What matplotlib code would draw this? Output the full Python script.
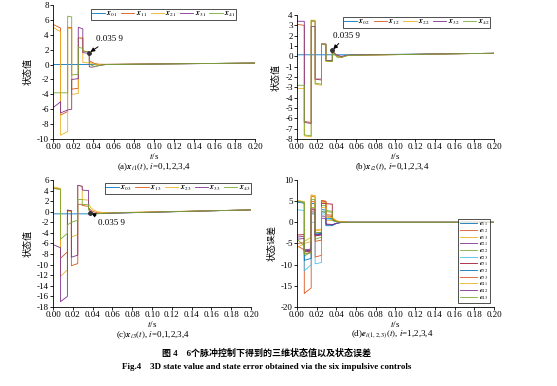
import matplotlib
matplotlib.use('Agg')
from matplotlib import pyplot as plt

plt.rcParams['font.family'] = ['Liberation Serif', 'Noto Sans CJK SC']
plt.rcParams['mathtext.fontset'] = 'stix'
plt.rcParams['axes.unicode_minus'] = False

colors = ['#0072BD', '#D95319', '#EDB120', '#7E2F8E', '#77AC30', '#4DBEEE', '#A2142F']

# impulse instants (s) and tail sample times after the last impulse
seg_t = [0, 0.0075, 0.0145, 0.0185, 0.025, 0.0295, 0.0359]
tail_t = [0.0359, 0.038, 0.041, 0.045, 0.052, 0.2]

# (a) x_i1 : per segment (start, end) values, then tail values
a_labels = ['x_{01}', 'x_{11}', 'x_{21}', 'x_{31}', 'x_{41}']
a_segs = [
    [(0, 0), (0, 0), (0, 0), (0, 0), (0, 0), (0, 0)],
    [(5.4, 4.9), (-6.8, -6.3), (5.0, 5.0), (-3.3, -3.2), (3.6, 3.5), (1.8, 1.7)],
    [(5.0, 4.4), (-9.5, -9.0), (4.9, 4.8), (-4.0, -3.9), (3.6, 3.6), (0.3, 0.2)],
    [(-5.8, -5.0), (-6.5, -6.1), (-6.1, -6.0), (-2.0, -1.9), (5.0, 4.8), (1.6, 1.5)],
    [(-3.8, -3.8), (-3.8, -3.8), (6.5, 6.4), (-1.4, -1.3), (2.3, 2.2), (1.9, 1.6)],
]
a_tail = [
    [0, 0, 0, 0, 0.02, 0.2],
    [0.5, 0.35, 0.15, 0.05, 0.03, 0.2],
    [0.3, 0.2, 0.05, 0.0, 0.02, 0.2],
    [-0.3, -0.35, -0.3, -0.15, 0.0, 0.2],
    [0.2, -0.1, -0.25, -0.15, 0.0, 0.2],
]

# (b) x_i2
b_labels = ['x_{02}', 'x_{12}', 'x_{22}', 'x_{32}', 'x_{42}']
b_segs = [
    [(0.15, 0.15)] * 6,
    [(3.1, 3.0), (-6.3, -6.4), (3.4, 3.4), (-2.2, -2.3), (1.2, 1.1), (-0.4, -0.4)],
    [(-3.1, -3.1), (-7.7, -7.8), (3.5, 3.5), (-2.7, -2.8), (1.2, 1.2), (-0.5, -0.5)],
    [(3.4, 3.4), (-6.4, -6.5), (2.9, 2.9), (-2.2, -2.2), (1.2, 1.2), (-0.4, -0.45)],
    [(-2.8, -2.8), (-7.6, -7.7), (3.5, 3.4), (-2.6, -2.7), (1.2, 1.15), (-0.45, -0.5)],
]
b_tail = [
    [0.15, 0.15, 0.15, 0.15, 0.15, 0.3],
    [0.5, 0.25, 0.0, -0.05, 0.1, 0.3],
    [0.6, 0.35, 0.05, -0.1, 0.1, 0.3],
    [0.6, 0.3, 0.1, 0.0, 0.12, 0.3],
    [0.55, 0.2, -0.1, -0.12, 0.1, 0.3],
]

# (c) x_i3
c_labels = ['x_{03}', 'x_{13}', 'x_{23}', 'x_{33}', 'x_{43}']
c_segs = [
    [(-0.4, -0.4)] * 6,
    [(4.5, 4.3), (-8.8, -7.6), (0.3, 0.2), (-10.2, -9.8), (1.4, 1.4), (1.2, 1.0)],
    [(4.7, 4.4), (-12.2, -11.0), (0.1, 0.0), (-4.8, -4.3), (5.0, 4.8), (2.3, 2.2)],
    [(-6.2, -6.8), (-17.0, -16.0), (0.3, 0.2), (-8.6, -8.2), (5.0, 4.8), (4.1, 4.0)],
    [(4.4, 4.2), (-5.2, -4.1), (-2.5, -2.0), (-2.0, -1.6), (2.3, 2.3), (1.4, 1.3)],
]
c_tail = [
    [-0.4, -0.4, -0.4, -0.38, -0.3, 0.35],
    [0.8, 0.3, 0.0, -0.2, -0.25, 0.35],
    [1.5, 0.8, 0.3, 0.0, -0.2, 0.35],
    [0.6, 0.0, -0.3, -0.35, -0.3, 0.35],
    [0.4, -0.2, -0.4, -0.35, -0.28, 0.35],
]

# (d) e_ij
d_labels = ['e_{11}', 'e_{12}', 'e_{13}', 'e_{21}', 'e_{22}', 'e_{23}',
            'e_{31}', 'e_{32}', 'e_{33}', 'e_{41}', 'e_{42}', 'e_{43}']
d_segs = [
    [(5.0, 4.8), (-6.8, -6.5), (4.5, 4.4), (-3.0, -2.8), (3.0, 2.9), (1.0, 0.9)],
    [(-5.5, -6.5), (-16.8, -15.5), (6.2, 6.0), (-8.2, -7.8), (5.2, 5.0), (1.5, 1.4)],
    [(-6.0, -5.0), (-4.5, -3.5), (6.5, 6.3), (-2.0, -1.8), (4.8, 4.6), (0.5, 0.4)],
    [(-3.5, -3.3), (-6.5, -6.3), (2.5, 2.4), (-2.5, -2.4), (1.5, 1.4), (-0.5, -0.6)],
    [(-4.0, -5.5), (-8.0, -7.0), (3.5, 3.4), (-4.0, -3.5), (4.0, 3.9), (2.5, 2.4)],
    [(3.0, 2.8), (-11.5, -10.0), (0.0, 0.0), (-9.8, -9.5), (2.0, 1.9), (0.8, 0.7)],
    [(-3.0, -2.9), (-7.0, -6.8), (3.0, 2.9), (-3.2, -3.0), (4.5, 4.4), (4.4, 4.3)],
    [(4.8, 4.5), (-9.0, -8.5), (2.0, 2.0), (-2.8, -2.6), (2.5, 2.4), (-0.8, -0.8)],
    [(-5.0, -4.8), (-7.5, -7.0), (5.0, 4.8), (-4.5, -4.2), (5.0, 4.9), (1.8, 1.7)],
    [(5.2, 4.9), (-5.0, -4.5), (6.3, 6.2), (-1.8, -1.6), (3.5, 3.4), (1.2, 1.1)],
    [(-4.0, -3.8), (-6.8, -6.6), (3.2, 3.1), (-3.0, -2.8), (1.0, 0.9), (-0.4, -0.5)],
    [(5.0, 4.6), (-7.5, -7.2), (5.5, 5.3), (-2.5, -2.3), (2.5, 2.4), (2.8, 2.6)],
]
d_tail = [
    [0.6, 0.35, 0.15, 0.05, 0, 0],
    [1.0, 0.6, 0.25, 0.08, 0, 0],
    [1.2, 0.7, 0.3, 0.1, 0, 0],
    [-0.6, -0.45, -0.2, -0.05, 0, 0],
    [0.8, 0.45, 0.2, 0.05, 0, 0],
    [0.5, 0.25, 0.1, 0.02, 0, 0],
    [0.8, 0.4, 0.15, 0.03, 0, 0],
    [-0.8, -0.5, -0.2, -0.05, 0, 0],
    [0.9, 0.5, 0.2, 0.05, 0, 0],
    [1.2, 0.7, 0.3, 0.1, 0, 0],
    [-0.6, -0.35, -0.15, -0.03, 0, 0],
    [0.5, 0.3, 0.1, 0.02, 0, 0],
]


def build(segs, tail):
    ts, ys = [], []
    for k, (y0, y1) in enumerate(segs):
        ts += [seg_t[k], seg_t[k + 1]]
        ys += [y0, y1]
    return ts + tail_t, ys + tail


def panel(ax, segs, tails, labels, ylim, yticks, ylabel, caption, cap_xy):
    for i in range(len(segs)):
        t, y = build(segs[i], tails[i])
        ax.plot(t, y, color=colors[i % 7], lw=0.6,
                label=r'$\mathbfit{' + labels[i][0] + '}' + labels[i][1:] + '$')
    ax.set_xlim(0, 0.2)
    ax.set_ylim(*ylim)
    ax.set_xticks([0.00, 0.02, 0.04, 0.06, 0.08, 0.10, 0.12, 0.14, 0.16, 0.18, 0.20])
    ax.set_xticklabels(['%.2f' % v for v in ax.get_xticks()])
    ax.set_yticks(yticks)
    ax.spines['top'].set_visible(False)
    ax.spines['right'].set_visible(False)
    for s in ['left', 'bottom']:
        ax.spines[s].set_linewidth(0.6)
    ax.tick_params(labelsize=6.5, length=2, width=0.6, pad=1)
    ax.set_xlabel(r'$t$/s', fontsize=6.5, labelpad=0)
    ax.set_ylabel(ylabel, fontsize=6.5, labelpad=3)
    fig.text(cap_xy[0], cap_xy[1], caption, ha='center', va='center', fontsize=6.5)


def mark(ax, pt, txt_pos):
    ax.plot(pt[0], pt[1], 'o', color='#333333', ms=2.5, zorder=5)
    ax.annotate('0.035 9', xy=pt, xytext=txt_pos, fontsize=6.5, ha='left', va='center',
                arrowprops=dict(arrowstyle='-|>', color='k', lw=0.7, mutation_scale=6,
                                shrinkA=1, shrinkB=1))


fig = plt.figure(figsize=(5.57, 3.86), dpi=100)
ax_a = fig.add_axes([0.0952, 0.640, 0.3626, 0.347])
ax_b = fig.add_axes([0.533, 0.640, 0.354, 0.321])
ax_c = fig.add_axes([0.0952, 0.2047, 0.3555, 0.329])
ax_d = fig.add_axes([0.533, 0.2047, 0.354, 0.329])

panel(ax_a, a_segs, a_tail, a_labels, (-10, 8), range(-10, 9, 2), '状态值',
      r'(a)$\mathbfit{x}_{i1}(t)$, $i$=0,1,2,3,4', (0.2765, 0.566))
panel(ax_b, b_segs, b_tail, b_labels, (-8, 4), range(-8, 5, 1), '状态值',
      r'(b)$\mathbfit{x}_{i2}(t)$, $i$=0,1,2,3,4', (0.704, 0.566))
panel(ax_c, c_segs, c_tail, c_labels, (-18, 6), range(-18, 7, 2), '状态值',
      r'(c)$\mathbfit{x}_{i3}(t)$, $i$=0,1,2,3,4', (0.275, 0.131))
panel(ax_d, d_segs, d_tail, d_labels, (-20, 10), range(-20, 11, 5), '状态误差',
      r'(d)$\mathbfit{e}_{i(1,2,3)}(t)$, $i$=1,2,3,4', (0.704, 0.131))

mark(ax_a, (0.0359, 1.6), (0.0425, 3.4))
mark(ax_b, (0.0359, 0.6), (0.0365, 2.0))
mark(ax_c, (0.0375, -0.2), (0.0455, -2.1))

leg_kw = dict(ncol=5, fontsize=5.6, frameon=True, fancybox=False, edgecolor='k',
              handlelength=1.7, columnspacing=0.45, handletextpad=0.2, borderpad=0.12,
              borderaxespad=0.2)
for ax, anchor in [(ax_a, (0.547, 0.985)), (ax_b, (0.607, 1.0)), (ax_c, (0.631, 0.99))]:
    lg = ax.legend(loc='upper center', bbox_to_anchor=anchor, **leg_kw)
    lg.get_frame().set_linewidth(0.6)

lg = ax_d.legend(loc='lower right', bbox_to_anchor=(0.98, 0.03), fontsize=4.5, ncol=1,
                 fancybox=False, edgecolor='k', handlelength=2.8, labelspacing=-0.2,
                 handletextpad=0.3, borderpad=0.25, borderaxespad=0.0)
lg.get_frame().set_linewidth(0.6)

fig.text(0.478, 0.085, '图 4　6个脉冲控制下得到的三维状态值以及状态误差', ha='center', va='center',
         fontsize=6.5, fontweight='bold')
fig.text(0.478, 0.049, 'Fig.4    3D state value and state error obtained via the six impulsive controls',
         ha='center', va='center', fontsize=6.5, fontweight='bold')

fig.savefig('out.png', dpi=100)
